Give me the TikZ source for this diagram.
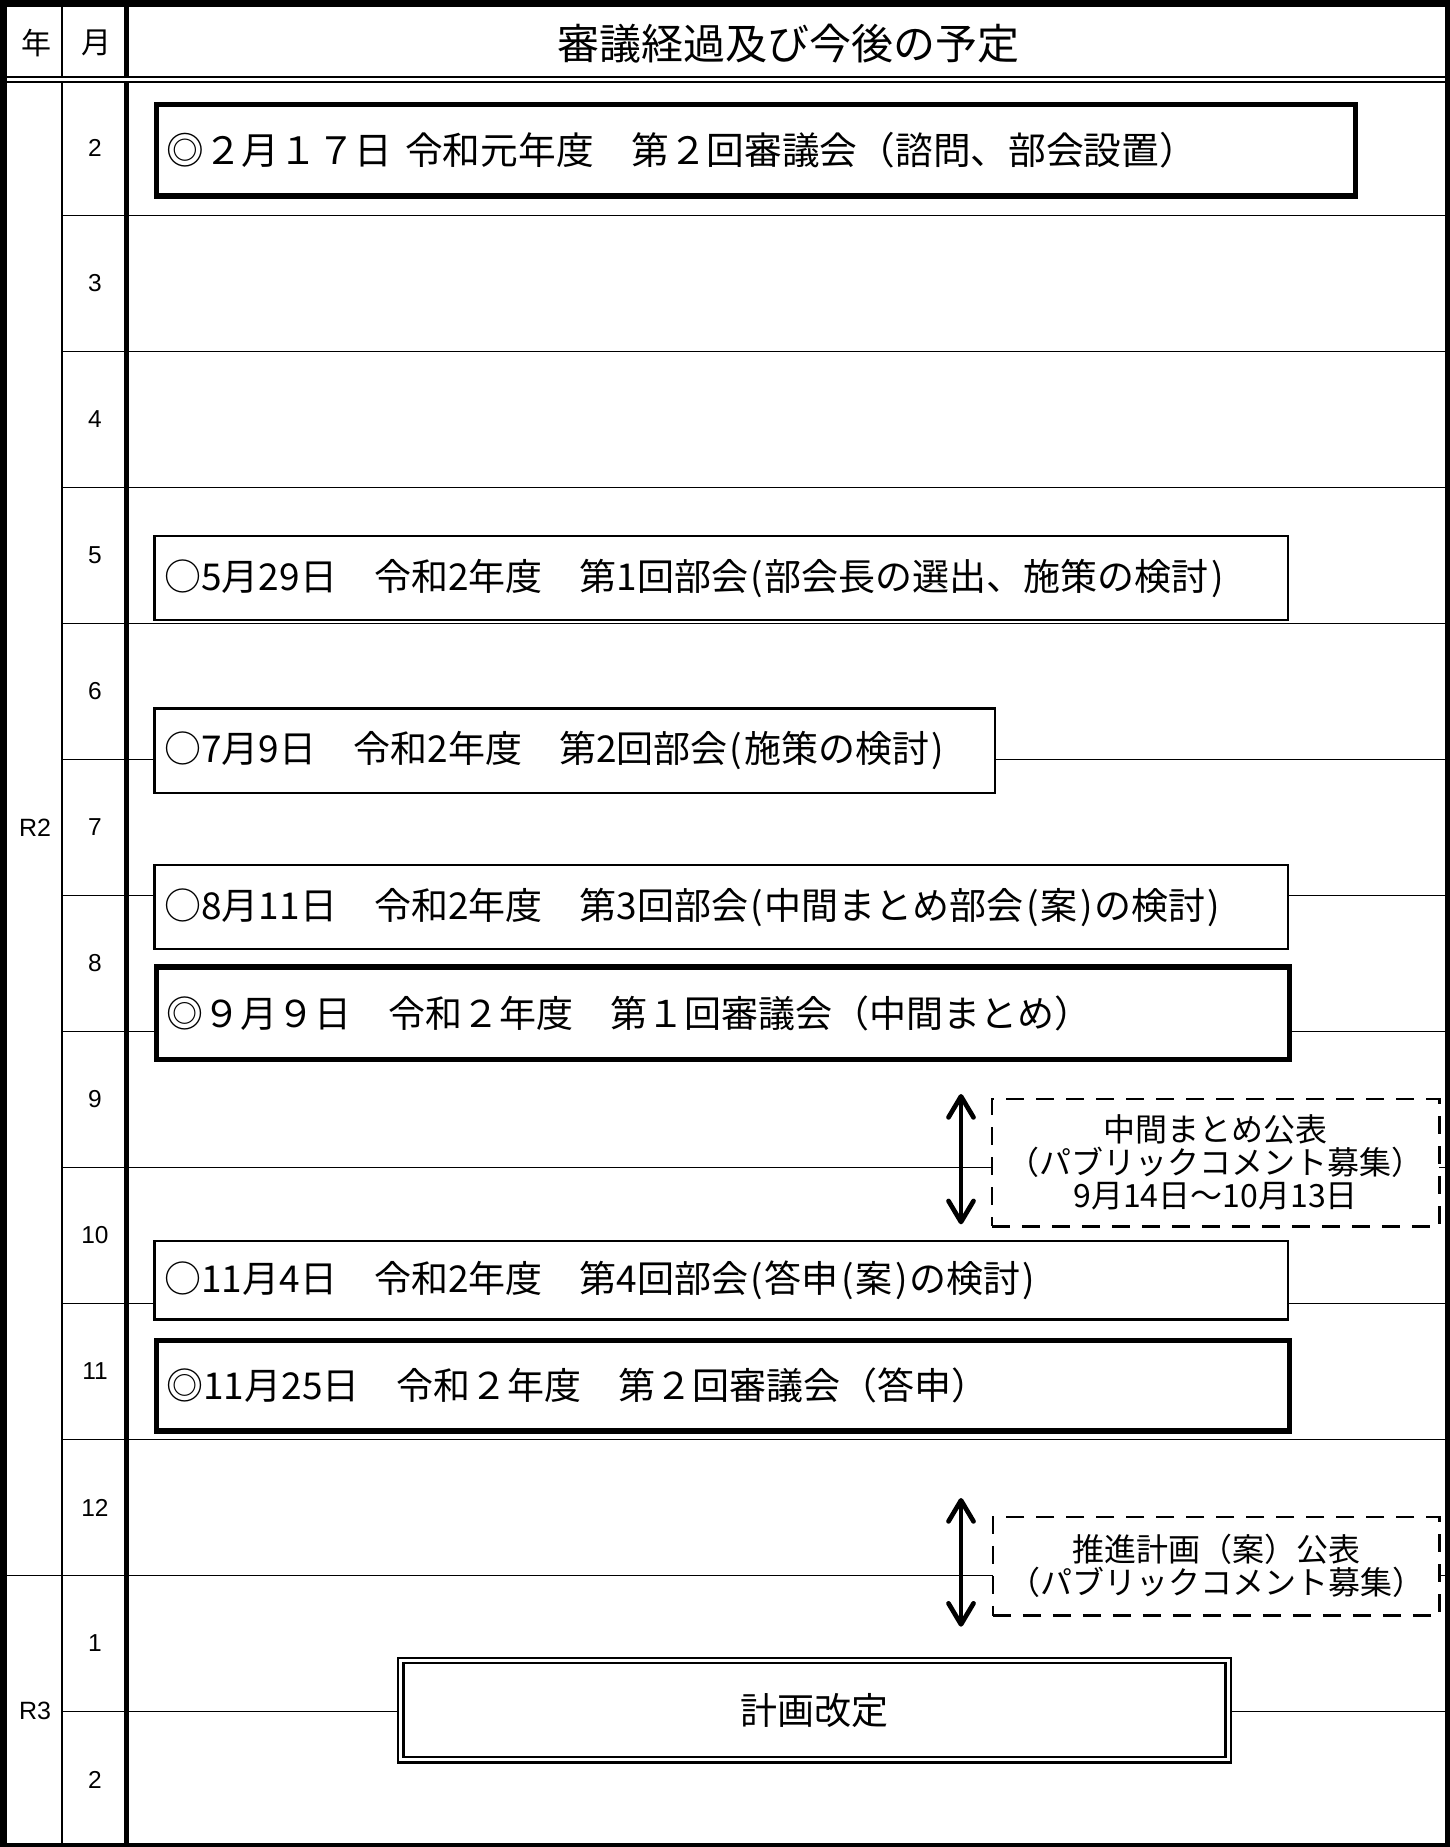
\documentclass[tikz,border=0pt]{standalone}
\usepackage{fontspec}
\setmainfont{Noto Sans CJK JP}
\newfontfamily\arialf{Liberation Sans}
\usetikzlibrary{arrows.meta}
\newcommand\hlp{\kern2.2pt(\kern2.2pt}
\newcommand\hrp{\kern2.2pt)\kern2.2pt}
\begin{document}
\begin{tikzpicture}[x=1pt,y=-1pt,
  rowline/.style={line width=1.3pt},
  evbox/.style={draw, fill=white, anchor=north west, inner xsep=10pt, inner ysep=0pt, align=left, font=\fontsize{37}{40}\selectfont},
  thinbox/.style={evbox, line width=2.2pt},
  thickbox/.style={evbox, line width=5.5pt},
  pubbox/.style={draw, fill=white, anchor=north west, line width=2.5pt, dash pattern=on 18pt off 12pt, inner sep=0pt, align=center, font=\fontsize{32}{33}\selectfont},
  planbox/.style={draw, double, line width=2.4pt, double distance=3pt, fill=white, anchor=north west, inner sep=0pt, font=\fontsize{37}{40}\selectfont},
  dblarrow/.style={line width=4.7pt, {Straight Barb[length=21pt,width=25pt,round]}-{Straight Barb[length=21pt,width=25pt,round]}},
  monthlbl/.style={font=\arialf\fontsize{24.5}{24.5}\selectfont},
  yearlbl/.style={font=\arialf\fontsize{25}{25}\selectfont},
  headlbl/.style={font=\fontsize{30}{30}\selectfont},
]
\useasboundingbox (0,0) rectangle (1450,1847);
\fill[white] (0,0) rectangle (1450,1847);
% row lines
\foreach \k in {1,...,10,12}{
  \draw[rowline] (62,{79.5+136*\k}) -- (1450,{79.5+136*\k});
}
\draw[rowline] (0,{79.5+136*11}) -- (1450,{79.5+136*11});
% column dividers
\draw[line width=2.3pt] (62,3.5) -- (62,1846.5);
\draw[line width=5.3pt] (126.7,3.5) -- (126.7,1846.5);
% header double line
\draw[double, line width=2.4pt, double distance=2.4pt] (0,79.5) -- (1450,79.5);
% frame
\draw[line width=7pt] (3.5,3.5) rectangle (1448.5,1846.5);
% header texts
\node[headlbl] (hy) at (36,43) {年};
\node[headlbl] (hm) at (96,43) {月};
\node[font=\fontsize{42}{42}\selectfont] (title) at (788,44) {審議経過及び今後の予定};
% year labels
\node[yearlbl] (r2) at (35,827.5) {R2};
\node[yearlbl] (r3) at (35,1711) {R3};
% month labels
\foreach \m [count=\i from 0] in {2,3,4,5,6,7,8,9,10,11,12,1,2}{
  \node[monthlbl] (m\i) at (95,{79.5+136*\i+68}) {\m};
}
% event boxes
\node[thickbox, font=\fontsize{37.7}{40}\selectfont, text width=1178.9pt, minimum height=91.8pt] (b1) at (153.7,101.5) {◎２月１７日 令和元年度　第２回審議会（諮問、部会設置）};
\node[thinbox, text width=1113.4pt, minimum height=84pt] (b2) at (153.3,535) {○5月29日　令和2年度　第1回部会\hlp 部会長の選出、施策の検討\hrp};
\node[thinbox, text width=820.4pt, minimum height=84.4pt] (b3) at (153.3,707.3) {○7月9日　令和2年度　第2回部会\hlp 施策の検討\hrp};
\node[thinbox, text width=1113.4pt, minimum height=84pt] (b4) at (153.3,864) {○8月11日　令和2年度　第3回部会\hlp 中間まとめ部会\hlp 案\hrp の検討\hrp};
\node[thickbox, text width=1113pt, minimum height=92.6pt] (b5) at (153.7,964.2) {◎９月９日　令和２年度　第１回審議会（中間まとめ）};
\node[thinbox, text width=1113.4pt, minimum height=78.3pt] (b6) at (153.3,1240) {○11月4日　令和2年度　第4回部会\hlp 答申\hlp 案\hrp の検討\hrp};
\node[thickbox, text width=1113pt, minimum height=90.8pt] (b7) at (153.7,1337.6) {◎11月25日　令和２年度　第２回審議会（答申）};
% public comment boxes
\node[pubbox, minimum width=447.3pt, minimum height=127.3pt] (d1) at (990.7,1097.7) {中間まとめ公表\\（パブリックコメント募集）\\9月14日～10月13日};
\node[pubbox, minimum width=446.3pt, minimum height=98.6pt] (d2) at (991.7,1515.7) {推進計画（案）公表\\（パブリックコメント募集）};
% plan revision
\node[planbox, minimum width=827.5pt, minimum height=99.5pt] (plan) at (399.5,1659.2) {計画改定};
% arrows
\coordinate (a1t) at (961,1094);
\coordinate (a1b) at (961,1224.3);
\coordinate (a2t) at (961,1498);
\coordinate (a2b) at (961,1626.7);
\draw[dblarrow] (a1t) -- (a1b);
\draw[dblarrow] (a2t) -- (a2b);
\end{tikzpicture}
\end{document}
